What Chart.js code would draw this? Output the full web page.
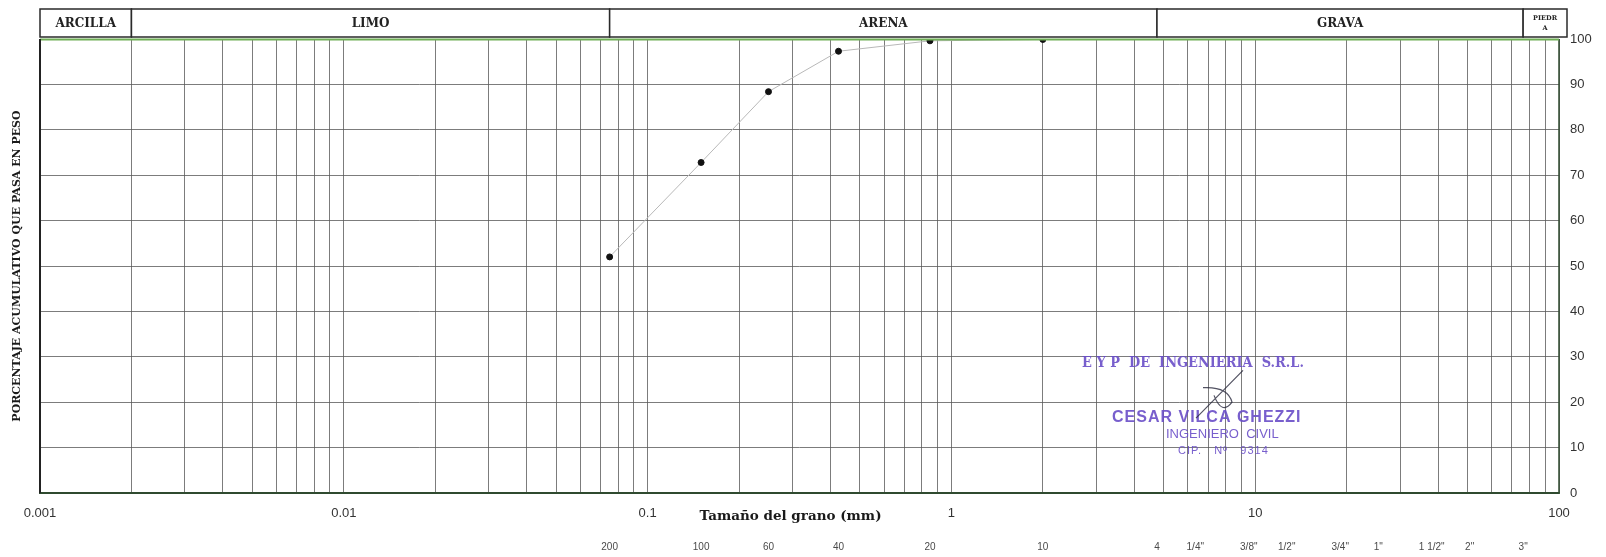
<!DOCTYPE html>
<html>
<head>
<meta charset="utf-8">
<title>Curva granulométrica</title>
<script src="https://cdn.jsdelivr.net/npm/chart.js@4.4.1/dist/chart.umd.min.js"></script>
<style>
  html, body { margin: 0; padding: 0; background: #fff; }
  #wrap { width: 1606px; height: 557px; position: relative; }
</style>
</head>
<body>
<div id="wrap"><canvas id="chart_area"></canvas></div>
<script>
// datos del ensayo
const grainSize = [0.075, 0.15, 0.25, 0.425, 0.85, 2.0];
const percentPassing = [52.0, 72.8, 88.4, 97.3, 99.6, 99.9];

// tamices (mm) y su nombre
const sieveSizes = [0.075, 0.15, 0.25, 0.425, 0.85, 2.0, 4.75, 6.35, 9.525, 12.7, 19.05, 25.4, 38.1, 50.8, 76.2];
const sieveLabels = ['200', '100', '60', '40', '20', '10', '4', '1/4"', '3/8"', '1/2"', '3/4"', '1"', '1 1/2"', '2"', '3"'];

// eje x: decadas y subdivisiones
const decades = [0.001, 0.01, 0.1, 1, 10, 100];
const decadeLabels = ['0.001', '0.01', '0.1', '1', '10', '100'];
const subSteps = [1, 2, 3, 4, 5, 6, 7, 8, 9];

// clasificacion del suelo
const zoneNames = ['ARCILLA', 'LIMO', 'ARENA', 'GRAVA', 'PIEDRA'];
const zoneBounds = [0.001, 0.002, 0.075, 4.75, 76.2, 100];

const gridTicks = [];
for (let i = 0; i < decades.length - 1; i++) {
  subSteps.forEach(s => gridTicks.push(+(decades[i] * s).toPrecision(6)));
}
gridTicks.push(decades[decades.length - 1]);

const stampColor = 'rgba(105, 78, 200, 0.9)';

const headerPlugin = {
  id: 'header',
  afterDraw(chart) {
    const c = chart.ctx;
    const xs = chart.scales.x;
    const area = chart.chartArea;
    const top = 9, bottom = area.top - 2;
    c.save();
    c.strokeStyle = '#2a2a2a';
    c.lineWidth = 1.5;
    zoneNames.forEach((name, i) => {
      const x0 = xs.getPixelForValue(zoneBounds[i]);
      let x1 = xs.getPixelForValue(zoneBounds[i + 1]);
      if (i === zoneNames.length - 1) x1 += 8;
      c.fillStyle = '#fff';
      c.fillRect(x0, top, x1 - x0, bottom - top);
      c.strokeRect(x0, top, x1 - x0, bottom - top);
      c.fillStyle = '#222';
      c.textAlign = 'center';
      c.textBaseline = 'middle';
      c.font = 'bold 12px "DejaVu Serif"';
      const w = x1 - x0;
      if (c.measureText(name).width > w - 6) {
        c.font = 'bold 6.5px "DejaVu Serif"';
        c.fillText(name.slice(0, -1), (x0 + x1) / 2, top + 9);
        c.fillText(name.slice(-1), (x0 + x1) / 2, top + 19);
      } else {
        c.fillText(name, (x0 + x1) / 2, (top + bottom) / 2 + 1);
      }
    });
    // marco del grafico
    c.strokeStyle = '#2f4a2f';
    c.lineWidth = 1.5;
    c.beginPath();
    c.moveTo(area.right, area.top);
    c.lineTo(area.right, area.bottom);
    c.stroke();
    c.strokeStyle = '#6fae55';
    c.lineWidth = 2;
    c.beginPath();
    c.moveTo(area.left, area.top + 0.5);
    c.lineTo(area.right, area.top + 0.5);
    c.stroke();
    c.strokeStyle = '#222';
    c.lineWidth = 2;
    c.beginPath();
    c.moveTo(area.left, area.top);
    c.lineTo(area.left, area.bottom);
    c.stroke();

    // titulo del eje x
    c.fillStyle = '#1a1a1a';
    c.font = 'bold 13.5px "DejaVu Serif"';
    c.textAlign = 'center';
    c.textBaseline = 'middle';
    const tx = (xs.getPixelForValue(0.1) + xs.getPixelForValue(1)) / 2 - 9;
    c.fillText('Tamaño del grano (mm)', tx, area.bottom + 23);
    c.restore();
  }
};

const stampPlugin = {
  id: 'stamp',
  afterDatasetsDraw(chart) {
    const c = chart.ctx;
    const ys = chart.scales.y;
    c.save();
    c.fillStyle = stampColor;
    c.textBaseline = 'middle';
    c.textAlign = 'left';
    c.font = 'bold 14px "DejaVu Serif"';
    c.fillText('E Y P  DE  INGENIERIA  S.R.L.', 1082, ys.getPixelForValue(28.5), 222);
    c.font = 'bold 16px "Liberation Sans"';
    c.letterSpacing = '1px';
    c.fillText('CESAR VILCA GHEZZI', 1112, ys.getPixelForValue(16.6), 221);
    c.letterSpacing = '0px';
    c.font = '13px "Liberation Sans"';
    c.fillText('INGENIERO  CIVIL', 1166, ys.getPixelForValue(12.8), 132);
    c.font = '11px "Liberation Sans"';
    c.letterSpacing = '1px';
    c.fillText('CIP.   Nº   9314', 1178, ys.getPixelForValue(9.3), 110);
    // firma
    c.strokeStyle = 'rgba(40, 40, 60, 0.8)';
    c.lineWidth = 1.2;
    c.beginPath();
    c.moveTo(1243, ys.getPixelForValue(27));
    c.lineTo(1196, ys.getPixelForValue(16.5));
    c.moveTo(1203, ys.getPixelForValue(23.2));
    c.quadraticCurveTo(1228, ys.getPixelForValue(23.5), 1232, ys.getPixelForValue(20));
    c.quadraticCurveTo(1222, ys.getPixelForValue(17), 1214, ys.getPixelForValue(21.5));
    c.stroke();
    c.restore();
  }
};

const ctx = document.getElementById('chart_area').getContext('2d');
const chart = new Chart(ctx, {
  type: 'scatter',
  data: {
    datasets: [{
      label: '% que pasa',
      data: grainSize.map((g, i) => ({ x: g, y: percentPassing[i] })),
      showLine: true,
      borderColor: '#b8b8b8',
      borderWidth: 1,
      backgroundColor: '#111',
      pointBackgroundColor: '#111',
      pointBorderColor: '#111',
      pointRadius: 3,
      pointHoverRadius: 3
    }]
  },
  options: {
    responsive: true,
    maintainAspectRatio: false,
    animation: false,
    layout: { padding: { top: 39, left: 0, right: 0, bottom: 0 } },
    plugins: {
      legend: { display: false },
      tooltip: { enabled: false }
    },
    scales: {
      x: {
        type: 'logarithmic',
        position: 'bottom',
        weight: 0,
        min: 0.001,
        max: 100,
        afterBuildTicks: (scale) => { scale.ticks = gridTicks.map(v => ({ value: v })); },
        afterFit: (scale) => { scale.height = 30; },
        grid: { color: '#5a5a5a', lineWidth: 0.8, drawTicks: false },
        border: { display: true, color: '#2f4a2f', width: 2 },
        ticks: {
          autoSkip: false,
          maxRotation: 0,
          padding: 13,
          color: '#333',
          font: { family: '"Liberation Sans", Arial', size: 13 },
          callback: (value) => {
            const k = decades.findIndex(d => Math.abs(d - value) < d * 1e-6);
            return k >= 0 ? decadeLabels[k] : '';
          }
        }
      },
      x2: {
        type: 'logarithmic',
        position: 'bottom',
        weight: 1,
        min: 0.001,
        max: 100,
        afterBuildTicks: (scale) => { scale.ticks = sieveSizes.map(v => ({ value: v })); },
        afterFit: (scale) => { scale.height = 34; },
        grid: { display: false, drawTicks: false },
        border: { display: false },
        ticks: {
          autoSkip: false,
          maxRotation: 0,
          padding: 18,
          color: '#4a4a4a',
          font: { family: '"Liberation Sans", Arial', size: 10 },
          callback: (value, index) => sieveLabels[index]
        }
      },
      y: {
        type: 'linear',
        position: 'right',
        min: 0,
        max: 100,
        afterFit: (scale) => { scale.width = 47; },
        grid: { color: '#5a5a5a', lineWidth: 0.8, drawTicks: false },
        border: { display: false },
        ticks: {
          stepSize: 10,
          padding: 11,
          color: '#333',
          font: { family: '"Liberation Sans", Arial', size: 13 }
        }
      },
      yl: {
        type: 'linear',
        position: 'left',
        min: 0,
        max: 100,
        afterFit: (scale) => { scale.width = 40; },
        grid: { display: false, drawTicks: false },
        border: { display: false },
        ticks: { display: false },
        title: {
          display: true,
          text: 'PORCENTAJE ACUMULATIVO QUE PASA EN PESO',
          color: '#1a1a1a',
          padding: { top: 11, bottom: 0 },
          font: { family: '"DejaVu Serif"', size: 11, weight: 'bold' }
        }
      }
    }
  },
  plugins: [headerPlugin, stampPlugin]
});
</script>
</body>
</html>
